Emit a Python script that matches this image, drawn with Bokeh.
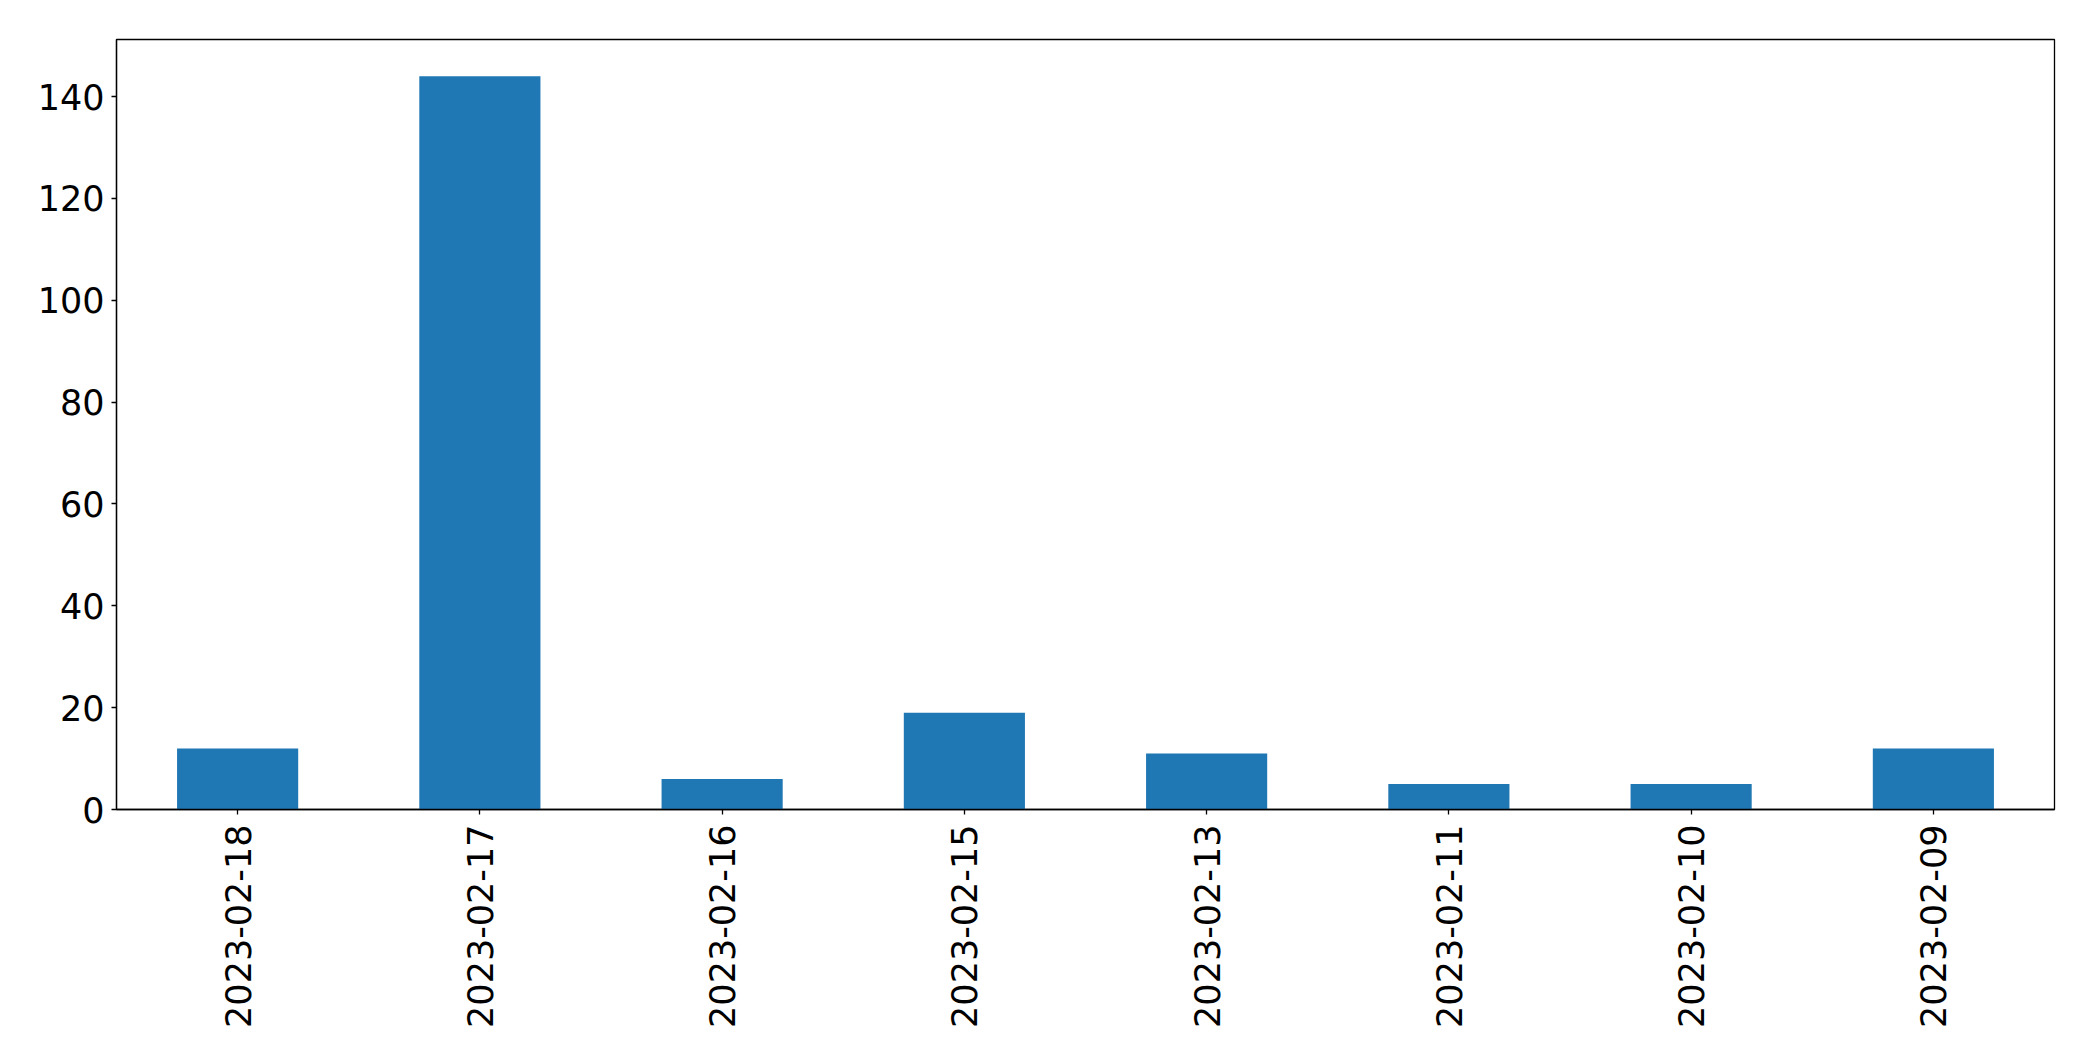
import math
from bokeh.plotting import figure
from bokeh.models import FactorRange, Range1d, FixedTicker, ColumnDataSource
from bokeh.embed import file_html
from bokeh.resources import INLINE

dates = ["2023-02-18", "2023-02-17", "2023-02-16", "2023-02-15",
         "2023-02-13", "2023-02-11", "2023-02-10", "2023-02-09"]
counts = [12, 144, 6, 19, 11, 5, 5, 12]
y_ticks = [0, 20, 40, 60, 80, 100, 120, 140]

source = ColumnDataSource(data=dict(date=dates, count=counts))

p = figure(
    x_range=FactorRange(factors=dates, range_padding=0, factor_padding=0),
    y_range=Range1d(0, max(counts) * 1.05),
    frame_width=1938, frame_height=770,
    min_border_left=116, min_border_right=30, min_border_top=39, min_border_bottom=244,
    output_backend="svg", toolbar_location=None,
    background_fill_color="white", border_fill_color="white",
)

p.vbar(x="date", top="count", width=0.5, bottom=0, source=source,
       fill_color="#1f77b4", line_color=None)

p.xgrid.visible = False
p.ygrid.visible = False
p.outline_line_color = "black"
p.outline_line_width = 1.3

for ax in (p.xaxis, p.yaxis):
    ax.axis_line_color = "black"
    ax.axis_line_width = 1.3
    ax.major_tick_line_color = "black"
    ax.major_tick_line_width = 1.3
    ax.major_tick_out = 5
    ax.major_tick_in = 0
    ax.minor_tick_line_color = None
    ax.major_label_text_font = "DejaVu Sans"
    ax.major_label_text_font_size = "35px"
    ax.major_label_text_color = "black"
    ax.major_label_standoff = 7

p.yaxis.ticker = FixedTicker(ticks=y_ticks)
p.xaxis.major_label_orientation = math.pi / 2
p.xaxis.major_label_standoff = 10

open("out.html", "w").write(file_html(p, INLINE))
